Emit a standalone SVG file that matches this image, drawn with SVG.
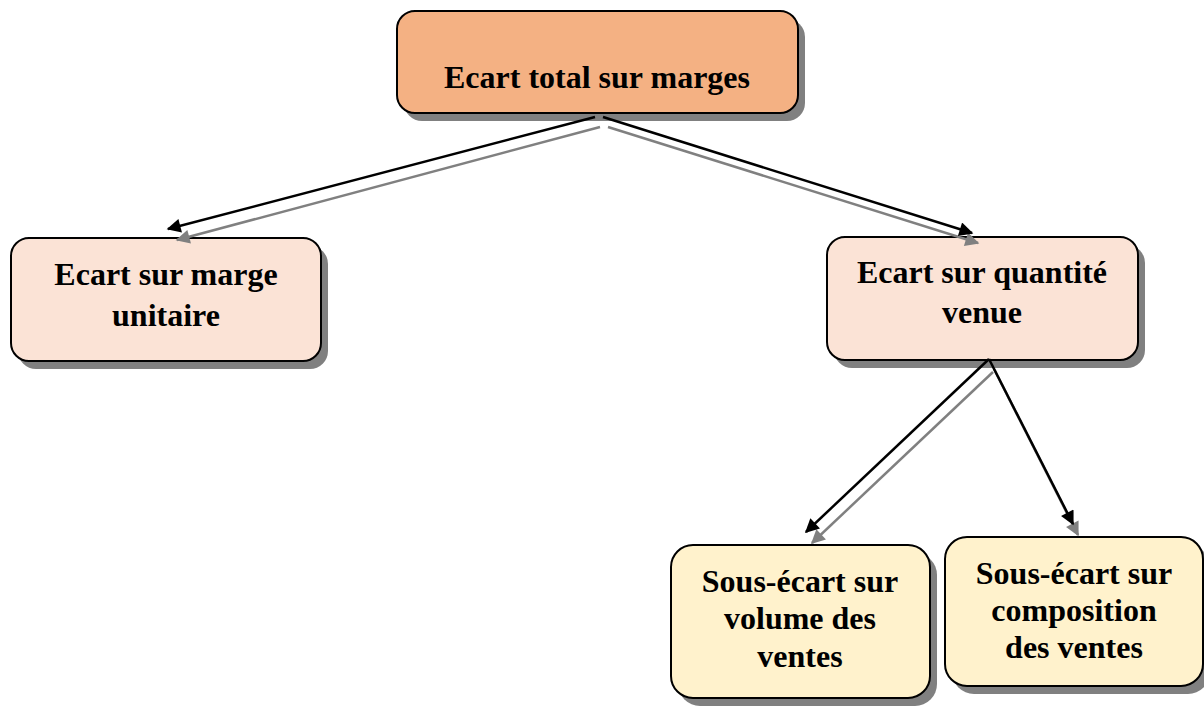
<svg xmlns="http://www.w3.org/2000/svg" width="1204" height="706" viewBox="0 0 1204 706">
<style>
.box{stroke:#000;stroke-width:2}
.shadow{fill:#808080}
.t{font-family:"Liberation Serif","Times New Roman",serif;font-weight:bold;font-size:32px;fill:#000;text-anchor:middle}
.c{stroke:#000;stroke-width:2.5;fill:none}
.cs{stroke:#808080;stroke-width:2.5;fill:none}
</style>
<defs>
<marker id="ab" viewBox="0 0 10 10" refX="9" refY="5" markerWidth="6.8" markerHeight="5.6" markerUnits="strokeWidth" orient="auto"><path d="M0,0 L10,5 L0,10 z" fill="#000"/></marker>
<marker id="ag" viewBox="0 0 10 10" refX="9" refY="5" markerWidth="6.8" markerHeight="5.6" markerUnits="strokeWidth" orient="auto"><path d="M0,0 L10,5 L0,10 z" fill="#808080"/></marker>
</defs>
<rect width="1204" height="706" fill="#fff"/>
<g id="n_total">
<rect class="shadow" x="404" y="19" width="401" height="102" rx="18"/>
<rect class="box" x="397" y="11" width="401" height="102" rx="18" fill="#F4B183"/>
<text class="t" x="597" y="88">Ecart total sur marges</text>
</g>
<g id="n_marge">
<rect class="shadow" x="18" y="246" width="310" height="123" rx="18"/>
<rect class="box" x="11" y="238" width="310" height="123" rx="18" fill="#FBE3D6"/>
<text class="t" x="166" y="285">Ecart sur marge</text>
<text class="t" x="166" y="326">unitaire</text>
</g>
<g id="n_quantite">
<rect class="shadow" x="834" y="245" width="311" height="123" rx="18"/>
<rect class="box" x="827" y="237" width="311" height="123" rx="18" fill="#FBE3D6"/>
<text class="t" x="982" y="283">Ecart sur quantité</text>
<text class="t" x="982" y="323">venue</text>
</g>
<g id="n_volume">
<rect class="shadow" x="678" y="553" width="259" height="153" rx="22"/>
<rect class="box" x="671" y="545" width="259" height="153" rx="22" fill="#FFF2CC"/>
<text class="t" x="800" y="592">Sous-écart sur</text>
<text class="t" x="800" y="629">volume des</text>
<text class="t" x="800" y="667">ventes</text>
</g>
<g id="n_composition">
<rect class="shadow" x="952" y="545" width="258" height="149" rx="22"/>
<rect class="box" x="945" y="537" width="258" height="149" rx="22" fill="#FFF2CC"/>
<text class="t" x="1074" y="584">Sous-écart sur</text>
<text class="t" x="1074" y="621">composition</text>
<text class="t" x="1074" y="658">des ventes</text>
</g>
<g id="connectors">
<line class="cs" x1="600" y1="127" x2="177" y2="240" marker-end="url(#ag)"/>
<line class="cs" x1="608" y1="127" x2="978" y2="243" marker-end="url(#ag)"/>
<line class="cs" x1="993" y1="372" x2="812" y2="543" marker-end="url(#ag)"/>
<line class="cs" x1="994" y1="369" x2="1078" y2="535" marker-end="url(#ag)"/>
<line class="c" x1="595" y1="117" x2="168" y2="229" marker-end="url(#ab)"/>
<line class="c" x1="603" y1="117" x2="972" y2="233" marker-end="url(#ab)"/>
<line class="c" x1="989" y1="359" x2="806" y2="532" marker-end="url(#ab)"/>
<line class="c" x1="989" y1="359" x2="1073" y2="524" marker-end="url(#ab)"/>
</g>
</svg>
